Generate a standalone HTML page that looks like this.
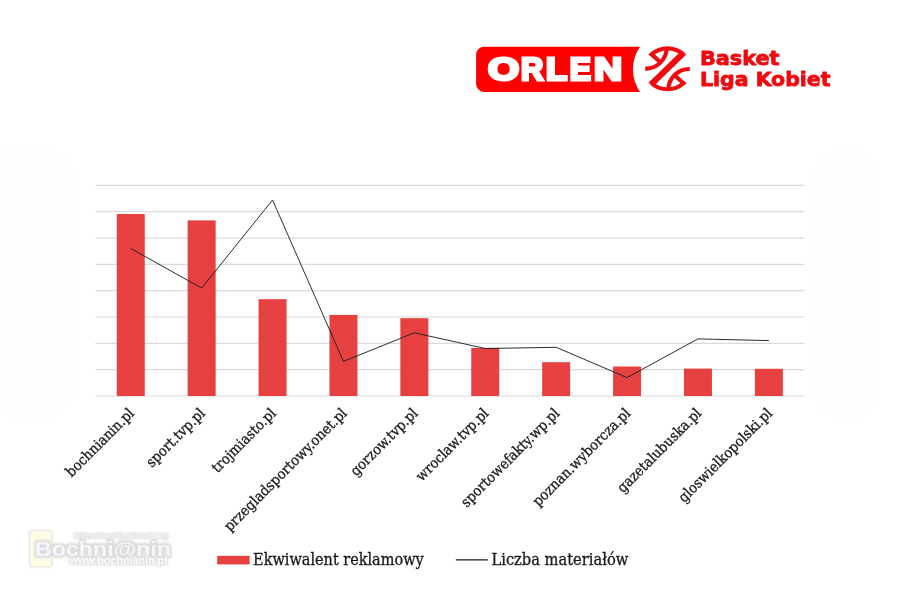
<!DOCTYPE html>
<html lang="pl"><head><meta charset="utf-8"><title>ORLEN Basket Liga Kobiet</title>
<style>
html,body{margin:0;padding:0;background:#fff;}
body{width:900px;height:600px;overflow:hidden;position:relative;}
svg{position:absolute;left:0;top:0;display:block;}
.lbl{font-family:'DejaVu Serif Condensed','DejaVu Serif','Liberation Serif',serif;font-size:14.5px;fill:#1a1a1a;stroke:#1a1a1a;stroke-width:0.3px;}
.leg{font-family:'DejaVu Serif Condensed','DejaVu Serif','Liberation Serif',serif;font-size:16px;fill:#1a1a1a;stroke:#1a1a1a;stroke-width:0.3px;}
.blk{font-family:'DejaVu Sans','Liberation Sans',sans-serif;font-weight:bold;font-size:19.6px;fill:#f00a10;stroke:#f00a10;stroke-width:0.8px;stroke-linejoin:round;}
.orlen{position:absolute;left:0;top:48.9px;height:40px;font:bold 31.6px/40px 'Liberation Sans',sans-serif;color:#fff;-webkit-text-stroke:3px #fff;}
.orlen span{position:absolute;top:0;display:block;transform-origin:0 0;}
.wm{font-family:'Liberation Sans',sans-serif;font-weight:bold;}
</style></head><body>
<svg width="900" height="600" viewBox="0 0 900 600">

<rect x="-20" y="147" width="98" height="272" rx="36" fill="#fefefd"/>
<rect x="812" y="147" width="69" height="274" rx="34" fill="#fefefd"/>
<g stroke="#dadada" stroke-width="1.2" fill="none">
<line x1="95.3" y1="185.40" x2="804.3" y2="185.40"/>
<line x1="95.3" y1="211.72" x2="804.3" y2="211.72"/>
<line x1="95.3" y1="238.05" x2="804.3" y2="238.05"/>
<line x1="95.3" y1="264.38" x2="804.3" y2="264.38"/>
<line x1="95.3" y1="290.70" x2="804.3" y2="290.70"/>
<line x1="95.3" y1="317.02" x2="804.3" y2="317.02"/>
<line x1="95.3" y1="343.35" x2="804.3" y2="343.35"/>
<line x1="95.3" y1="369.68" x2="804.3" y2="369.68"/>
<line x1="95.3" y1="396.00" x2="804.3" y2="396.00"/>
</g>
<g fill="#e64040">
<rect x="116.75" y="214.00" width="28.0" height="182.00"/>
<rect x="187.65" y="220.40" width="28.0" height="175.60"/>
<rect x="258.55" y="299.20" width="28.0" height="96.80"/>
<rect x="329.45" y="314.90" width="28.0" height="81.10"/>
<rect x="400.35" y="318.20" width="28.0" height="77.80"/>
<rect x="471.25" y="347.90" width="28.0" height="48.10"/>
<rect x="542.15" y="362.20" width="28.0" height="33.80"/>
<rect x="613.05" y="366.50" width="28.0" height="29.50"/>
<rect x="683.95" y="368.60" width="28.0" height="27.40"/>
<rect x="754.85" y="368.80" width="28.0" height="27.20"/>
</g>
<polyline points="130.75,248.50 201.65,288.10 272.55,200.00 343.45,361.40 414.35,332.80 485.25,348.50 556.15,347.30 627.05,377.60 697.95,338.90 768.85,340.60" fill="none" stroke="#222222" stroke-width="0.95" stroke-linejoin="miter"/>
<text class="lbl" text-anchor="end" transform="translate(135.05,414.20) rotate(-45)">bochnianin.pl</text>
<text class="lbl" text-anchor="end" transform="translate(205.95,414.20) rotate(-45)">sport.tvp.pl</text>
<text class="lbl" text-anchor="end" transform="translate(276.85,414.20) rotate(-45)">trojmiasto.pl</text>
<text class="lbl" text-anchor="end" transform="translate(347.75,414.20) rotate(-45)">przegladsportowy.onet.pl</text>
<text class="lbl" text-anchor="end" transform="translate(418.65,414.20) rotate(-45)">gorzow.tvp.pl</text>
<text class="lbl" text-anchor="end" transform="translate(489.55,414.20) rotate(-45)">wroclaw.tvp.pl</text>
<text class="lbl" text-anchor="end" transform="translate(560.45,414.20) rotate(-45)">sportowefakty.wp.pl</text>
<text class="lbl" text-anchor="end" transform="translate(631.35,414.20) rotate(-45)">poznan.wyborcza.pl</text>
<text class="lbl" text-anchor="end" transform="translate(702.25,414.20) rotate(-45)">gazetalubuska.pl</text>
<text class="lbl" text-anchor="end" transform="translate(773.15,414.20) rotate(-45)">gloswielkopolski.pl</text>
<rect x="217.2" y="555.8" width="32.4" height="8.6" fill="#e64040"/>
<text class="leg" x="253.1" y="565.1" textLength="170.6" lengthAdjust="spacingAndGlyphs">Ekwiwalent reklamowy</text>
<line x1="455.8" y1="559.9" x2="487.8" y2="559.9" stroke="#1a1a1a" stroke-width="1.1"/>
<text class="leg" x="491.5" y="565.1" textLength="136.8" lengthAdjust="spacingAndGlyphs">Liczba materiałów</text>
<path d="M484.1,46.7 H640 A39.6,39.6 0 0 0 640,91.9 H484.1 A8,8 0 0 1 476.1,83.9 V54.7 A8,8 0 0 1 484.1,46.7 Z" fill="#ff0000"/>
<g transform="translate(667.5,68.8)" fill="none" stroke="#f00a10" stroke-width="4.1" stroke-linejoin="miter" stroke-miterlimit="10">
<path d="M-6.9,-6.5 L-16,-14.4 A24.3,24.3 0 0 1 16,-14.4"/>
<path d="M-22.3,-0.2 A21,21 0 0 0 -0.8,-20.5"/>
<path d="M6.9,6.5 L16,14.4 A24.3,24.3 0 0 1 -16,14.4"/>
<path d="M22.3,0.2 A21,21 0 0 0 0.8,20.5"/>
<polygon points="18.8,-14.2 -13.7,17.2 -19.1,14.0 13.3,-17.5" fill="#f00a10" stroke="none"/>
</g>
<text class="blk" x="700" y="65" textLength="79.5" lengthAdjust="spacingAndGlyphs">Basket</text>
<text class="blk" x="700" y="86.3" textLength="130.5" lengthAdjust="spacingAndGlyphs">Liga Kobiet</text>
<defs><filter id="ws1" x="-10%" y="-40%" width="120%" height="180%"><feMorphology in="SourceAlpha" operator="dilate" radius="0.7" result="d"/><feGaussianBlur in="d" stdDeviation="0.9" result="b"/><feFlood flood-color="#dcdcdc"/><feComposite in2="b" operator="in" result="s"/><feMerge><feMergeNode in="s"/><feMergeNode in="SourceGraphic"/></feMerge></filter><filter id="ws2" x="-10%" y="-40%" width="120%" height="180%"><feMorphology in="SourceAlpha" operator="dilate" radius="1.1" result="d"/><feGaussianBlur in="d" stdDeviation="1.0" result="b"/><feFlood flood-color="#dcdcdc"/><feComposite in2="b" operator="in" result="s"/><feMerge><feMergeNode in="s"/><feMergeNode in="SourceGraphic"/></feMerge></filter><filter id="ws3" x="-10%" y="-40%" width="120%" height="180%"><feMorphology in="SourceAlpha" operator="dilate" radius="1.5" result="d"/><feGaussianBlur in="d" stdDeviation="1.1" result="b"/><feFlood flood-color="#dcdcdc"/><feComposite in2="b" operator="in" result="s"/><feMerge><feMergeNode in="s"/><feMergeNode in="SourceGraphic"/></feMerge></filter><filter id="ws4" x="-10%" y="-40%" width="120%" height="180%"><feMorphology in="SourceAlpha" operator="dilate" radius="0.6" result="d"/><feGaussianBlur in="d" stdDeviation="1.0" result="b"/><feFlood flood-color="#dcdcdc"/><feComposite in2="b" operator="in" result="s"/><feMerge><feMergeNode in="s"/><feMergeNode in="SourceGraphic"/></feMerge></filter></defs>
<g class="wm">
<rect x="30.4" y="531.3" width="20.8" height="35" rx="2" fill="#fdfce4" filter="url(#ws4)"/>
<text x="73.8" y="538" font-size="7.6" fill="#f5f5f5" filter="url(#ws1)" textLength="94.5" lengthAdjust="spacingAndGlyphs">Internetowy Serwis Lokalny</text>
<text x="35" y="556" font-size="21" fill="#f5f5fa" filter="url(#ws3)" textLength="136" lengthAdjust="spacingAndGlyphs">Bochni@nin</text>
<text x="69.5" y="564.4" font-size="11.5" fill="#fdfdfd" filter="url(#ws2)" textLength="97.8" lengthAdjust="spacingAndGlyphs">www.bochnianin.pl</text>
</g>
</svg>
<div class="orlen"><span style="left:487.50px;transform:scaleX(1.268)">O</span><span style="left:520.72px;transform:scaleX(0.978)">R</span><span style="left:545.61px;transform:scaleX(1.095)">L</span><span style="left:569.80px;transform:scaleX(1.000)">E</span><span style="left:593.77px;transform:scaleX(1.229)">N</span></div>
</body></html>
